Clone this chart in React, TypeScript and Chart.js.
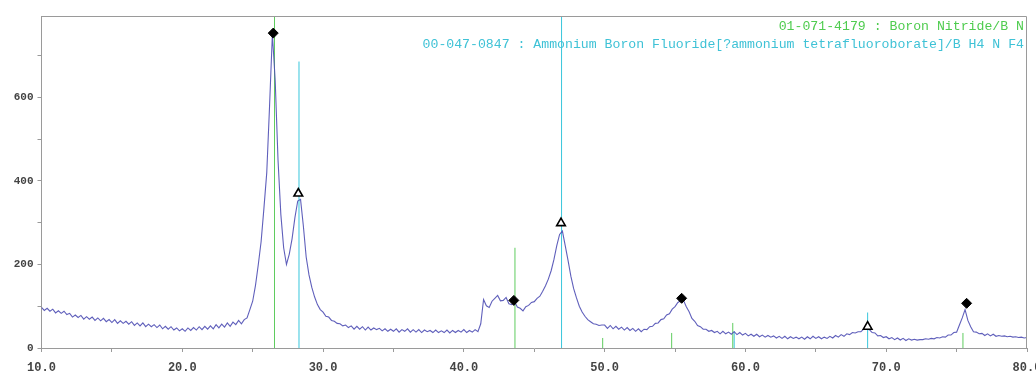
import React, { useEffect, useRef } from "react";
import { Chart, registerables } from "chart.js";

Chart.register(...registerables);

// 2-theta sampling of the measured pattern
const twoThetaStart = 10.0;
const twoThetaStep = 0.2;

// Measured intensity (counts), one value per 0.2° from 10.0 to 80.0
const intensity: number[] = [
  97, 90, 95, 88, 93, 84, 89, 83, 88, 80,
  83, 74, 79, 73, 78, 69, 75, 69, 74, 66,
  72, 65, 71, 63, 68, 61, 68, 59, 65, 59,
  64, 57, 63, 54, 60, 53, 60, 51, 57, 51,
  56, 49, 55, 46, 52, 45, 51, 43, 48, 41,
  46, 40, 48, 42, 49, 43, 51, 44, 52, 45,
  53, 46, 56, 48, 57, 50, 60, 52, 62, 56,
  66, 58, 68, 72, 92, 112, 150, 200, 255, 335,
  420, 580, 752, 640, 450, 320, 240, 200, 225, 262,
  312, 352, 356, 292, 218, 175, 145, 122, 104, 92,
  86, 76, 74, 66, 64, 59, 58, 53, 55, 49,
  53, 45, 52, 45, 51, 43, 50, 43, 48, 44,
  47, 41, 46, 40, 45, 40, 46, 38, 44, 40,
  46, 38, 44, 38, 44, 37, 43, 39, 42, 37,
  43, 37, 41, 37, 43, 36, 42, 37, 42, 38,
  44, 37, 42, 38, 44, 39, 58, 116, 101, 97,
  112, 119, 126, 113, 114, 121, 106, 104, 111, 98,
  95, 89, 99, 102, 109, 111, 119, 124, 136, 149,
  165, 185, 212, 245, 272, 280, 245, 210, 172, 142,
  120, 100, 86, 76, 68, 63, 58, 57, 54, 55,
  55, 47, 54, 46, 52, 45, 50, 43, 49, 42,
  47, 40, 46, 39, 45, 44, 51, 52, 59, 60,
  68, 70, 79, 82, 93, 99, 109, 113, 114, 99,
  87, 71, 64, 54, 51, 45, 45, 40, 42, 37,
  40, 34, 40, 34, 38, 33, 39, 32, 37, 31,
  35, 29, 33, 28, 33, 27, 31, 26, 30, 26,
  29, 24, 28, 23, 28, 22, 27, 23, 26, 22,
  26, 21, 27, 22, 28, 23, 27, 22, 26, 23,
  28, 24, 30, 26, 32, 28, 34, 32, 37, 36,
  39, 39, 45, 45, 44, 37, 36, 29, 30, 25,
  27, 22, 25, 20, 24, 19, 23, 18, 22, 19,
  21, 19, 20, 20, 22, 21, 23, 22, 25, 24,
  27, 26, 31, 31, 37, 38, 55, 72, 92, 66,
  51, 39, 38, 34, 35, 30, 34, 29, 33, 28,
  30, 28, 29, 27, 28, 26, 27, 25, 26, 24,
  25,
];

// Reference stick pattern 01-071-4179 : Boron Nitride
const bnPositions = [26.55, 43.63, 49.86, 54.76, 59.1, 75.45];
const bnHeights = [800, 240, 24, 36, 60, 36];

// Reference stick pattern 00-047-0847 : Ammonium Boron Fluoride
const abfPositions = [28.29, 46.94, 59.2, 68.68];
const abfHeights = [686, 800, 40, 85];

// Phase markers
const diamondX = [26.46, 43.55, 55.47, 75.71];
const diamondY = [754, 114, 119, 107];
const triangleX = [28.24, 46.9, 68.68];
const triangleY = [370, 299, 51];

// Axes
const xMin = 10;
const xMax = 80;
const yMin = 0;
const yMax = 795;
const xTicks = [10, 15, 20, 25, 30, 35, 40, 45, 50, 55, 60, 65, 70, 75, 80];
const xTickLabels = ["10.0", "", "20.0", "", "30.0", "", "40.0", "", "50.0", "", "60.0", "", "70.0", "", "80.0"];
const yTicks = [0, 100, 200, 300, 400, 500, 600, 700];
const yTickLabels = ["0", "", "200", "", "400", "", "600", ""];

const bnLabel = "01-071-4179 : Boron Nitride/B N";
const abfLabel =
  "00-047-0847 : Ammonium Boron Fluoride[?ammonium tetrafluoroborate]/B H4 N F4";

function stickDatasets(pos: number[], h: number[], color: string, name: string) {
  return pos.map((p, i) => ({
    label: `${name}-${i}`,
    data: [
      { x: p, y: 0 },
      { x: p, y: h[i] },
    ],
    showLine: true,
    pointRadius: 0,
    borderColor: color,
    backgroundColor: color,
    borderWidth: 1,
    order: 2,
  }));
}

const boxPlugin = {
  id: "boxAndLabels",
  afterDraw(chart: any) {
    const { ctx, chartArea } = chart;
    ctx.save();
    ctx.strokeStyle = "#9a9a9a";
    ctx.lineWidth = 1;
    ctx.beginPath();
    ctx.moveTo(chartArea.left, chartArea.top + 0.5);
    ctx.lineTo(chartArea.right - 0.5, chartArea.top + 0.5);
    ctx.lineTo(chartArea.right - 0.5, chartArea.bottom);
    ctx.stroke();
    ctx.font = "13.2px 'Liberation Mono', monospace";
    ctx.textAlign = "right";
    ctx.textBaseline = "middle";
    ctx.fillStyle = "#4fcc4f";
    ctx.fillText(bnLabel, chartArea.right - 3, 27);
    ctx.fillStyle = "#3fc2d6";
    ctx.fillText(abfLabel, chartArea.right - 3, 44.5);
    ctx.restore();
  },
};

export default function App() {
  const ref = useRef<HTMLCanvasElement | null>(null);

  useEffect(() => {
    document.body.style.margin = "0";
    if (!ref.current) return;
    const curve = intensity.map((v, i) => ({
      x: twoThetaStart + i * twoThetaStep,
      y: v,
    }));
    const chart = new Chart(ref.current, {
      type: "scatter",
      data: {
        datasets: [
          {
            label: "diamonds",
            data: diamondX.map((x, i) => ({ x, y: diamondY[i] })),
            pointStyle: "rectRot",
            pointRadius: 5,
            backgroundColor: "#000",
            borderColor: "#000",
            borderWidth: 1,
            order: 0,
          },
          {
            label: "triangles",
            data: triangleX.map((x, i) => ({ x, y: triangleY[i] })),
            pointStyle: "triangle",
            pointRadius: 5,
            backgroundColor: "#fff",
            borderColor: "#000",
            borderWidth: 1.6,
            order: 0,
          },
          {
            label: "pattern",
            data: curve,
            showLine: true,
            pointRadius: 0,
            borderColor: "rgba(78,78,180,0.9)",
            borderWidth: 1.1,
            order: 1,
          } as any,
          ...stickDatasets(bnPositions, bnHeights, "#5fcc5f", "BN"),
          ...stickDatasets(abfPositions, abfHeights, "#38c6dc", "ABF"),
        ] as any,
      },
      options: {
        animation: false,
        responsive: false,
        events: [],
        layout: { padding: { top: 16, right: 9, left: 0, bottom: 0 } },
        plugins: {
          legend: { display: false },
          tooltip: { enabled: false },
        },
        scales: {
          x: {
            type: "linear",
            min: xMin,
            max: xMax,
            afterBuildTicks: (s: any) => {
              s.ticks = xTicks.map((v) => ({ value: v }));
            },
            afterFit: (s: any) => {
              s.height = 26;
              s.paddingLeft = 0;
              s.paddingRight = 0;
            },
            grid: {
              drawOnChartArea: false,
              drawTicks: true,
              tickLength: 4,
              color: "#9a9a9a",
            },
            border: { display: true, color: "#9a9a9a" },
            ticks: {
              autoSkip: false,
              maxRotation: 0,
              padding: 9,
              color: "#444",
              font: { family: "'Liberation Mono', monospace", size: 12, weight: "bold" },
              callback: (_v: any, i: number) => xTickLabels[i] ?? "",
            },
          },
          y: {
            type: "linear",
            min: yMin,
            max: yMax,
            afterBuildTicks: (s: any) => {
              s.ticks = yTicks.map((v) => ({ value: v }));
            },
            afterFit: (s: any) => {
              s.width = 41.5;
              s.paddingTop = 0;
              s.paddingBottom = 0;
            },
            grid: {
              drawOnChartArea: false,
              drawTicks: true,
              tickLength: 4,
              color: "#9a9a9a",
            },
            border: { display: true, color: "#9a9a9a" },
            ticks: {
              autoSkip: false,
              padding: 4,
              color: "#444",
              font: { family: "'Liberation Mono', monospace", size: 11, weight: "bold" },
              callback: (_v: any, i: number) => yTickLabels[i] ?? "",
            },
          },
        },
      } as any,
      plugins: [boxPlugin],
    });
    return () => chart.destroy();
  }, []);

  return (
    <canvas
      ref={ref}
      width={1036}
      height={374}
      style={{ display: "block", width: 1036, height: 374 }}
    />
  );
}
